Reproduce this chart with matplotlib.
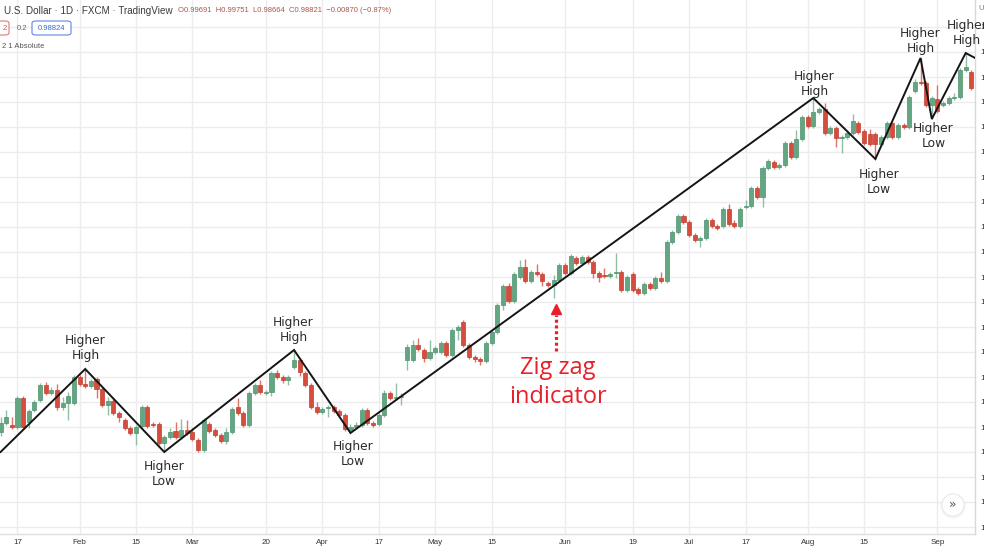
import numpy as np
import matplotlib
matplotlib.use("Agg")
import matplotlib.pyplot as plt
from matplotlib.patches import Ellipse, FancyBboxPatch

# ---------------- data (daily candles) ----------------
opens = [1.0195, 1.0204, 1.0202, 1.0200, 1.0229, 1.0205, 1.0217, 1.0227, 1.0242, 1.0234,
         1.0237, 1.0220, 1.0224, 1.0224, 1.0250, 1.0243, 1.0241, 1.0248, 1.0238, 1.0222,
         1.0226, 1.0214, 1.0207, 1.0199, 1.0194, 1.0201, 1.0220, 1.0203, 1.0203, 1.0184,
         1.0190, 1.0196, 1.0190, 1.0197, 1.0195, 1.0187, 1.0177, 1.0203, 1.0197, 1.0192,
         1.0186, 1.0195, 1.0220, 1.0214, 1.0202, 1.0234, 1.0242, 1.0234, 1.0235, 1.0254,
         1.0250, 1.0247, 1.0260, 1.0267, 1.0254, 1.0242, 1.0220, 1.0215, 1.0219, 1.0220,
         1.0216, 1.0212, 1.0197, 1.0200, 1.0202, 1.0217, 1.0204, 1.0203, 1.0212, 1.0234,
         1.0229, 1.0230, 1.0267, 1.0267, 1.0282, 1.0277, 1.0269, 1.0275, 1.0275, 1.0284,
         1.0272, 1.0297, 1.0305, 1.0282, 1.0270, 1.0268, 1.0266, 1.0284, 1.0295, 1.0322,
         1.0341, 1.0326, 1.0350, 1.0360, 1.0346, 1.0355, 1.0353, 1.0344, 1.0342, 1.0347,
         1.0362, 1.0354, 1.0369, 1.0364, 1.0370, 1.0365, 1.0354, 1.0352, 1.0351, 1.0354,
         1.0355, 1.0337, 1.0353, 1.0338, 1.0334, 1.0343, 1.0339, 1.0349, 1.0346, 1.0385,
         1.0395, 1.0411, 1.0405, 1.0392, 1.0387, 1.0389, 1.0407, 1.0401, 1.0401, 1.0418,
         1.0404, 1.0401, 1.0420, 1.0421, 1.0439, 1.0430, 1.0459, 1.0465, 1.0460, 1.0462,
         1.0484, 1.0470, 1.0488, 1.0510, 1.0501, 1.0515, 1.0518, 1.0494, 1.0499, 1.0489,
         1.0490, 1.0494, 1.0504, 1.0496, 1.0493, 1.0493, 1.0483, 1.0490, 1.0504, 1.0490,
         1.0502, 1.0500, 1.0536, 1.0545, 1.0544, 1.0522, 1.0528, 1.0522, 1.0524, 1.0529,
         1.0530, 1.0557, 1.0555]
highs = [1.0210, 1.0217, 1.0210, 1.0231, 1.0231, 1.0218, 1.0227, 1.0244, 1.0245, 1.0240,
         1.0243, 1.0230, 1.0235, 1.0252, 1.0252, 1.0258, 1.0248, 1.0250, 1.0240, 1.0230,
         1.0228, 1.0216, 1.0209, 1.0201, 1.0202, 1.0222, 1.0222, 1.0205, 1.0205, 1.0192,
         1.0199, 1.0205, 1.0208, 1.0207, 1.0199, 1.0189, 1.0209, 1.0205, 1.0199, 1.0194,
         1.0199, 1.0220, 1.0229, 1.0216, 1.0236, 1.0244, 1.0247, 1.0237, 1.0256, 1.0257,
         1.0252, 1.0252, 1.0277, 1.0269, 1.0256, 1.0244, 1.0225, 1.0220, 1.0222, 1.0222,
         1.0218, 1.0214, 1.0203, 1.0205, 1.0219, 1.0219, 1.0206, 1.0214, 1.0237, 1.0236,
         1.0244, 1.0234, 1.0283, 1.0287, 1.0289, 1.0279, 1.0287, 1.0281, 1.0286, 1.0286,
         1.0299, 1.0302, 1.0307, 1.0284, 1.0272, 1.0270, 1.0286, 1.0297, 1.0324, 1.0343,
         1.0344, 1.0355, 1.0367, 1.0368, 1.0357, 1.0363, 1.0355, 1.0346, 1.0352, 1.0364,
         1.0364, 1.0373, 1.0371, 1.0372, 1.0372, 1.0367, 1.0356, 1.0359, 1.0355, 1.0374,
         1.0357, 1.0352, 1.0355, 1.0340, 1.0345, 1.0345, 1.0351, 1.0355, 1.0387, 1.0397,
         1.0413, 1.0413, 1.0407, 1.0394, 1.0391, 1.0409, 1.0409, 1.0403, 1.0420, 1.0423,
         1.0407, 1.0420, 1.0427, 1.0441, 1.0441, 1.0461, 1.0468, 1.0467, 1.0464, 1.0486,
         1.0486, 1.0497, 1.0512, 1.0512, 1.0529, 1.0520, 1.0524, 1.0501, 1.0501, 1.0492,
         1.0496, 1.0513, 1.0506, 1.0498, 1.0498, 1.0495, 1.0492, 1.0506, 1.0506, 1.0504,
         1.0504, 1.0532, 1.0548, 1.0569, 1.0546, 1.0531, 1.0542, 1.0526, 1.0531, 1.0534,
         1.0559, 1.0574, 1.0557]
lows = [1.0191, 1.0202, 1.0198, 1.0198, 1.0198, 1.0199, 1.0215, 1.0225, 1.0232, 1.0232,
        1.0217, 1.0217, 1.0207, 1.0222, 1.0241, 1.0239, 1.0239, 1.0229, 1.0220, 1.0212,
        1.0212, 1.0205, 1.0197, 1.0192, 1.0182, 1.0199, 1.0199, 1.0200, 1.0182, 1.0175,
        1.0188, 1.0188, 1.0188, 1.0192, 1.0186, 1.0175, 1.0175, 1.0194, 1.0190, 1.0184,
        1.0183, 1.0193, 1.0212, 1.0200, 1.0200, 1.0232, 1.0233, 1.0232, 1.0231, 1.0248,
        1.0244, 1.0242, 1.0258, 1.0251, 1.0240, 1.0218, 1.0213, 1.0213, 1.0210, 1.0214,
        1.0210, 1.0196, 1.0194, 1.0198, 1.0200, 1.0202, 1.0200, 1.0201, 1.0210, 1.0227,
        1.0227, 1.0222, 1.0257, 1.0265, 1.0276, 1.0265, 1.0267, 1.0273, 1.0273, 1.0270,
        1.0270, 1.0287, 1.0280, 1.0268, 1.0265, 1.0262, 1.0264, 1.0282, 1.0293, 1.0317,
        1.0324, 1.0324, 1.0348, 1.0344, 1.0344, 1.0351, 1.0341, 1.0340, 1.0329, 1.0345,
        1.0352, 1.0352, 1.0362, 1.0362, 1.0363, 1.0349, 1.0345, 1.0349, 1.0349, 1.0349,
        1.0335, 1.0335, 1.0335, 1.0332, 1.0332, 1.0337, 1.0337, 1.0344, 1.0344, 1.0383,
        1.0393, 1.0403, 1.0390, 1.0385, 1.0380, 1.0387, 1.0399, 1.0397, 1.0399, 1.0401,
        1.0399, 1.0399, 1.0418, 1.0419, 1.0428, 1.0420, 1.0457, 1.0458, 1.0458, 1.0460,
        1.0468, 1.0468, 1.0486, 1.0499, 1.0499, 1.0513, 1.0492, 1.0492, 1.0480, 1.0474,
        1.0488, 1.0492, 1.0493, 1.0482, 1.0481, 1.0468, 1.0481, 1.0488, 1.0488, 1.0488,
        1.0498, 1.0498, 1.0534, 1.0542, 1.0520, 1.0508, 1.0514, 1.0520, 1.0522, 1.0527,
        1.0528, 1.0555, 1.0537]
closes = [1.0204, 1.0210, 1.0200, 1.0229, 1.0200, 1.0216, 1.0225, 1.0242, 1.0234, 1.0237,
          1.0220, 1.0224, 1.0231, 1.0250, 1.0243, 1.0241, 1.0246, 1.0238, 1.0222, 1.0226,
          1.0214, 1.0210, 1.0199, 1.0194, 1.0200, 1.0220, 1.0201, 1.0202, 1.0184, 1.0190,
          1.0195, 1.0190, 1.0197, 1.0194, 1.0188, 1.0177, 1.0207, 1.0196, 1.0192, 1.0186,
          1.0195, 1.0218, 1.0214, 1.0202, 1.0234, 1.0242, 1.0235, 1.0235, 1.0254, 1.0250,
          1.0247, 1.0250, 1.0267, 1.0255, 1.0242, 1.0220, 1.0215, 1.0218, 1.0220, 1.0216,
          1.0212, 1.0198, 1.0200, 1.0202, 1.0217, 1.0204, 1.0202, 1.0212, 1.0234, 1.0229,
          1.0230, 1.0231, 1.0280, 1.0282, 1.0278, 1.0269, 1.0275, 1.0279, 1.0284, 1.0272,
          1.0297, 1.0300, 1.0282, 1.0270, 1.0268, 1.0266, 1.0284, 1.0295, 1.0322, 1.0341,
          1.0326, 1.0353, 1.0360, 1.0346, 1.0355, 1.0353, 1.0346, 1.0342, 1.0347, 1.0362,
          1.0354, 1.0371, 1.0364, 1.0370, 1.0365, 1.0354, 1.0350, 1.0351, 1.0353, 1.0355,
          1.0337, 1.0350, 1.0337, 1.0334, 1.0343, 1.0339, 1.0349, 1.0346, 1.0385, 1.0395,
          1.0411, 1.0405, 1.0392, 1.0387, 1.0389, 1.0407, 1.0401, 1.0399, 1.0418, 1.0403,
          1.0401, 1.0418, 1.0421, 1.0439, 1.0430, 1.0459, 1.0466, 1.0460, 1.0462, 1.0484,
          1.0470, 1.0488, 1.0510, 1.0501, 1.0515, 1.0518, 1.0494, 1.0499, 1.0489, 1.0490,
          1.0494, 1.0506, 1.0495, 1.0484, 1.0483, 1.0483, 1.0490, 1.0504, 1.0490, 1.0502,
          1.0500, 1.0530, 1.0545, 1.0544, 1.0522, 1.0529, 1.0516, 1.0524, 1.0529, 1.0530,
          1.0557, 1.0560, 1.0539]

# zig zag pivots (bar index, price)
zz_index = [0, 15, 29, 52, 62, 144, 155, 163, 165, 171, 173]
zz_price = [1.0175, 1.0258, 1.0175, 1.0277, 1.0194, 1.0529, 1.0468, 1.0569, 1.0508, 1.0574, 1.0568]

# date axis labels (bar index of each label)
date_pos = [3, 14, 24, 34, 47, 57, 67, 77, 87, 100, 112, 122, 132, 143, 153, 166]
date_labels = ["17", "Feb", "15", "Mar", "20", "Apr", "17", "May", "15", "Jun",
               "19", "Jul", "17", "Aug", "15", "Sep"]

# price grid
price_ticks = [round(1.0100 + 0.0025 * k, 4) for k in range(21)]

# annotation labels: (bar index, price, text)
labels = [(15.06, 1.0279, "Higher", "High"), (28.9, 1.0153, "Higher", "Low"),
          (51.9, 1.0297, "Higher", "High"), (62.4, 1.0173, "Higher", "Low"),
          (144.2, 1.0543, "Higher", "High"), (155.6, 1.0445, "Higher", "Low"),
          (163.0, 1.0586, "Higher", "High"), (165.3, 1.0491, "Higher", "Low"),
          (171.2, 1.0594, "Higher", "High")]

# ---------------- figure ----------------
W, H = 984, 554
fig = plt.figure(figsize=(W / 100, H / 100), dpi=100)
fig.patch.set_facecolor("white")
ax = fig.add_axes([0, 20 / H, 975 / W, 534 / H])
ax.set_facecolor("white")

o = np.array(opens); h = np.array(highs); l = np.array(lows); c = np.array(closes)
idx = np.arange(len(o))
up = c >= o
GREEN = "#64a582"
RED = "#d64d3d"
GREEN_WICK = "#8fbea3"
RED_WICK = "#dc7467"
body_col = np.where(up, GREEN, RED)
edge_col = np.where(up, "#4f9170", "#c23f30")
wick_col = np.where(up, GREEN_WICK, RED_WICK)

ax.vlines(idx, l, h, colors=wick_col, lw=1.0, zorder=2)
ax.bar(idx, np.maximum(np.abs(c - o), 0.00009), bottom=np.minimum(o, c), width=0.72,
       color=body_col, edgecolor=edge_col, linewidth=0.5, zorder=3)

ax.plot(zz_index, zz_price, color="#151515", lw=1.4, zorder=5, solid_joinstyle="miter")

ax.set_xlim(-0.1, 172.65)
ax.set_ylim(1.0093, 1.0627)

# grid
ax.set_yticks(price_ticks)
ax.set_xticks(date_pos)
ax.set_xticklabels(date_labels)
ax.set_yticklabels([f"{p:.4f}" for p in price_ticks])
ax.grid(True, color="#ececec", lw=1.0, zorder=0)
ax.set_axisbelow(True)
ax.yaxis.tick_right()
ax.tick_params(axis="y", length=0, pad=3.5, labelsize=6, labelcolor="#333333")
ax.tick_params(axis="x", length=0, pad=3.5, labelsize=5.8, labelcolor="#333333")
for t in ax.get_xticklabels() + ax.get_yticklabels():
    t.set_fontfamily("Liberation Sans")
for s in ("top", "left"):
    ax.spines[s].set_visible(False)
ax.spines["right"].set_color("#d8d8d8")
ax.spines["bottom"].set_color("#dedede")
ax.spines["right"].set_linewidth(1.0)
ax.spines["bottom"].set_linewidth(1.0)

# Higher High / Higher Low labels
for x, y, l1, l2 in labels:
    ax.annotate(l1, (x, y), xytext=(0, 5.4), textcoords="offset points", ha="center",
                va="center", fontsize=8.8, color="#2b2b2b", annotation_clip=False)
    ax.annotate(l2, (x, y), xytext=(0, -5.4), textcoords="offset points", ha="center",
                va="center", fontsize=8.8, color="#2b2b2b", annotation_clip=False)

# Zig zag indicator callout
ZRED = "#e8202a"
ax.annotate("Zig zag", (98.7, 1.02445), xytext=(0, 10.4), textcoords="offset points",
            ha="center", va="center", fontsize=17, color=ZRED, family="Open Sans")
ax.annotate("indicator", (98.7, 1.02445), xytext=(0, -10.4), textcoords="offset points",
            ha="center", va="center", fontsize=17, color=ZRED, family="Open Sans")
ax.plot([98.5, 98.5], [1.0276, 1.0312], color=ZRED, lw=2.3,
        linestyle=(0, (0.95, 0.85)), solid_capstyle="butt", dash_capstyle="butt", zorder=6)
ax.plot([98.5], [1.0318], marker="^", ms=7.5, color=ZRED, mec=ZRED, zorder=6)

# ---------------- header texts ----------------
def ftext(x, y, s, **kw):
    fig.text(x / W, 1 - y / H, s, **kw)

ftext(4, 11, "U.S. Dollar · 1D · FXCM · TradingView", fontsize=7.1, color="#3a3a3a",
      family="Liberation Sans", va="center")
ftext(178, 11, "O0.99691  H0.99751  L0.98664  C0.98821  −0.00870 (−0.87%)", fontsize=5.5,
      color="#a9564c", family="Liberation Sans", va="center")

box1 = FancyBboxPatch(((-6) / W, 1 - 35 / H), 15 / W, 14 / H,
                      boxstyle="round,pad=0,rounding_size=0.004", transform=fig.transFigure,
                      fc="white", ec="#e07a72", lw=0.8)
fig.add_artist(box1)
ftext(3, 28, "2", fontsize=5.5, color="#d9534f", family="Liberation Sans", va="center")
ftext(17, 28, "0.2", fontsize=5.5, color="#666666", family="Liberation Sans", va="center")
box2 = FancyBboxPatch((32 / W, 1 - 35 / H), 39 / W, 14 / H,
                      boxstyle="round,pad=0,rounding_size=0.004", transform=fig.transFigure,
                      fc="white", ec="#5b86e5", lw=0.8)
fig.add_artist(box2)
ftext(51.5, 28, "0.98824", fontsize=5.5, color="#3b67cf", family="Liberation Sans",
      va="center", ha="center")
ftext(2, 46, "2 1 Absolute", fontsize=5.5, color="#555555", family="Liberation Sans", va="center")

ftext(978, 8, "U", fontsize=5.5, color="#777777", family="Liberation Sans", va="center")

# scroll button
fig.add_artist(Ellipse((953 / W, 1 - 506 / H), 25 / W, 25 / H, transform=fig.transFigure,
                       fc="#eeeeee", ec="none", alpha=0.7))
fig.add_artist(Ellipse((953 / W, 1 - 505 / H), 22 / W, 22 / H, transform=fig.transFigure,
                       fc="white", ec="#e6e6e6", lw=0.6))
ftext(953, 504, "»", fontsize=9, color="#555555", ha="center", va="center")

fig.savefig("out.png", dpi=100, facecolor="white")
